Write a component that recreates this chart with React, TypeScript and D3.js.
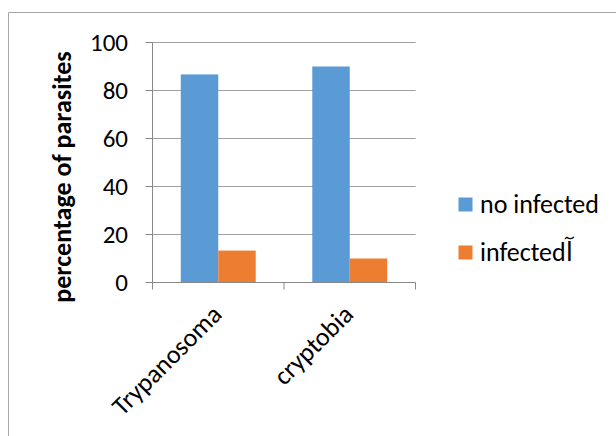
import React from "react";
import { scaleBand, scaleLinear, range } from "d3";

const categories = ["Trypanosoma", "cryptobia"];
const seriesNames = ["no infected", "infectedآ"];
const noInfected = [86.7, 90];
const infected = [13.3, 10];
const yTicks = [0, 20, 40, 60, 80, 100];

const colors = ["#5B9BD5", "#ED7D31"];
const font = "Calibri, Carlito, Lato, 'DejaVu Sans', sans-serif";

export default function App() {
  const width = 616;
  const height = 436;
  const series = [noInfected, infected];

  // plot area
  const left = 152.5;
  const right = 415.5;
  const top = 42.5;
  const bottom = 282.5;

  const xScale = scaleBand<string>()
    .domain(categories)
    .range([left, right])
    .paddingInner(0.43)
    .paddingOuter(0.215);

  const inner = scaleBand<number>()
    .domain(range(series.length))
    .range([0, xScale.bandwidth()]);

  const yScale = scaleLinear().domain([0, 100]).range([bottom, top]);

  // category boundaries for x tick marks
  const xTickPos = range(categories.length + 1).map((i) => left + i * xScale.step());

  return (
    <svg
      width={width}
      height={height}
      style={{ position: "absolute", left: 0, top: 0, background: "#fff" }}
      fontFamily={font}
    >
      {/* chart frame (only top and left edges visible) */}
      <line x1={8.5} x2={width} y1={12.5} y2={12.5} stroke="#a6a6a6" />
      <line x1={8.5} x2={8.5} y1={12.5} y2={height} stroke="#a6a6a6" />

      {/* gridlines + y tick labels */}
      {yTicks.map((t) => (
        <g key={t}>
          {t !== 0 && (
            <line x1={left} x2={right} y1={yScale(t)} y2={yScale(t)} stroke="#a0a0a0" />
          )}
          <line x1={left - 7} x2={left} y1={yScale(t)} y2={yScale(t)} stroke="#888" />
          <text
            x={128}
            y={yScale(t)}
            textAnchor="end"
            dominantBaseline="central"
            fontSize={25}
            fill="#000"
          >
            {t}
          </text>
        </g>
      ))}

      {/* bars */}
      {categories.map((c, ci) =>
        series.map((s, si) => (
          <rect
            key={c + si}
            x={(xScale(c) as number) + (inner(si) as number)}
            y={yScale(s[ci])}
            width={inner.bandwidth()}
            height={bottom - yScale(s[ci])}
            fill={colors[si]}
          />
        ))
      )}

      {/* axes */}
      <line x1={left} x2={left} y1={top} y2={bottom} stroke="#888" />
      <line x1={left} x2={right} y1={bottom} y2={bottom} stroke="#888" />
      {xTickPos.map((x, i) => (
        <line key={i} x1={x} x2={x} y1={bottom} y2={bottom + 7} stroke="#888" />
      ))}

      {/* x labels, rotated */}
      {categories.map((c) => {
        const cx = (xScale(c) as number) + xScale.bandwidth() / 2;
        return (
          <text
            key={c}
            transform={`translate(${cx + 5},316) rotate(-45)`}
            textAnchor="end"
            fontSize={26}
            fill="#000"
          >
            {c}
          </text>
        );
      })}

      {/* y axis title */}
      <text
        transform="translate(71,177) rotate(-90)"
        textAnchor="middle"
        fontSize={26}
        fontWeight="bold"
        fill="#000"
      >
        percentage of parasites
      </text>

      {/* legend */}
      {seriesNames.map((n, i) => (
        <g key={n} transform={`translate(458.5,${197.5 + i * 48})`}>
          <rect width={14} height={14} fill={colors[i]} />
          <text x={21.5} y={15} fontSize={26} fill="#000">
            {n}
          </text>
        </g>
      ))}
    </svg>
  );
}
